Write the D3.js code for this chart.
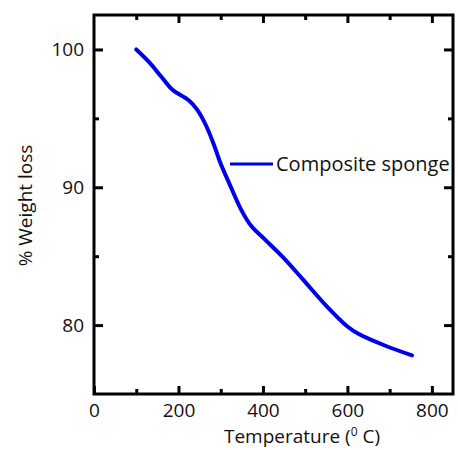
<!DOCTYPE html>
<html>
<head>
<meta charset="utf-8">
<script src="https://cdn.jsdelivr.net/npm/d3@7"></script>
<style>
  body { margin: 0; background: #fff; }
  svg text { font-family: "Open Sans", "Noto Sans", sans-serif; fill: #111; }
</style>
</head>
<body>
<div id="chart"></div>
<script>
// values
var temps   = [100, 130, 160, 185, 225, 245, 265, 285, 300, 320, 348, 372, 405, 445, 495, 550, 600, 627, 690, 753];
var weights = [100.0, 99.1, 98.0, 97.1, 96.3, 95.6, 94.5, 93.0, 91.7, 90.3, 88.4, 87.2, 86.2, 85.0, 83.3, 81.4, 79.9, 79.35, 78.5, 77.8];
var xMajor = [0, 200, 400, 600, 800];
var xMinor = [100, 300, 500, 700];
var yMajor = [80, 90, 100];
var yMinor = [85, 95];
var seriesName = "Composite sponge";

var width = 458, height = 450;
var margin = {top: 15, right: 5, bottom: 56, left: 94};
var w = width - margin.left - margin.right,
    h = height - margin.top - margin.bottom;

var svg = d3.select("#chart").append("svg")
    .attr("width", width)
    .attr("height", height);
var g = svg.append("g")
    .attr("transform", "translate(" + margin.left + "," + margin.top + ")");

var x = d3.scaleLinear().domain([0, 850]).range([0, w]);
var y = d3.scaleLinear().domain([75, 102.5]).range([h, 0]);

function styleAxis(sel) {
  sel.select(".domain").remove();
  sel.selectAll(".tick line").attr("stroke", "#000").attr("stroke-width", 3);
  sel.selectAll(".tick text").style("font-size", "19px").attr("fill", "#111");
}

// bottom
g.append("g").attr("transform", "translate(0," + h + ")")
  .call(d3.axisBottom(x).tickValues(xMajor).tickSize(-8).tickPadding(10).tickFormat(d3.format("d")))
  .call(styleAxis);
g.append("g").attr("transform", "translate(0," + h + ")")
  .call(d3.axisBottom(x).tickValues(xMinor).tickSize(-5).tickFormat(""))
  .call(styleAxis);
// top
g.append("g")
  .call(d3.axisTop(x).tickValues(xMajor.filter(d => d > 0)).tickSize(-8).tickFormat(""))
  .call(styleAxis);
g.append("g")
  .call(d3.axisTop(x).tickValues(xMinor).tickSize(-5).tickFormat(""))
  .call(styleAxis);
// left
g.append("g")
  .call(d3.axisLeft(y).tickValues(yMajor).tickSize(-9).tickPadding(10).tickFormat(d3.format("d")))
  .call(styleAxis);
g.append("g")
  .call(d3.axisLeft(y).tickValues(yMinor).tickSize(-5).tickFormat(""))
  .call(styleAxis);
// right
g.append("g").attr("transform", "translate(" + w + ",0)")
  .call(d3.axisRight(y).tickValues(yMajor).tickSize(-9).tickFormat(""))
  .call(styleAxis);
g.append("g").attr("transform", "translate(" + w + ",0)")
  .call(d3.axisRight(y).tickValues(yMinor).tickSize(-5).tickFormat(""))
  .call(styleAxis);

// frame
g.append("rect")
  .attr("x", 0).attr("y", 0).attr("width", w).attr("height", h)
  .attr("fill", "none").attr("stroke", "#000").attr("stroke-width", 3);

// curve
var pts = temps.map((t, i) => [t, weights[i]]);
var line = d3.line()
  .x(d => x(d[0]))
  .y(d => y(d[1]))
  .curve(d3.curveCatmullRom.alpha(0.5));
g.append("path")
  .datum(pts)
  .attr("d", line)
  .attr("fill", "none")
  .attr("stroke", "#0000e8")
  .attr("stroke-width", 4)
  .attr("stroke-linecap", "round");

// legend
var lg = g.append("g").attr("transform", "translate(" + (230 - margin.left) + "," + (164 - margin.top) + ")");
lg.append("line").attr("x1", 0).attr("x2", 43).attr("y1", 0).attr("y2", 0)
  .attr("stroke", "#0000e8").attr("stroke-width", 3);
lg.append("text").attr("x", 46).attr("y", 0).attr("dy", "0.35em")
  .style("font-size", "20px").text(seriesName);

// axis titles
var xt = svg.append("text")
  .attr("x", 302).attr("y", 443)
  .attr("text-anchor", "middle")
  .style("font-size", "19px");
xt.append("tspan").text("Temperature (");
xt.append("tspan").attr("dy", "-7").style("font-size", "12px").text("0");
xt.append("tspan").attr("dy", "7").text(" C)");

svg.append("text")
  .attr("transform", "translate(32," + (margin.top + h / 2 + 1) + ") rotate(-90)")
  .attr("text-anchor", "middle")
  .style("font-size", "19px")
  .text("% Weight loss");
</script>
</body>
</html>
